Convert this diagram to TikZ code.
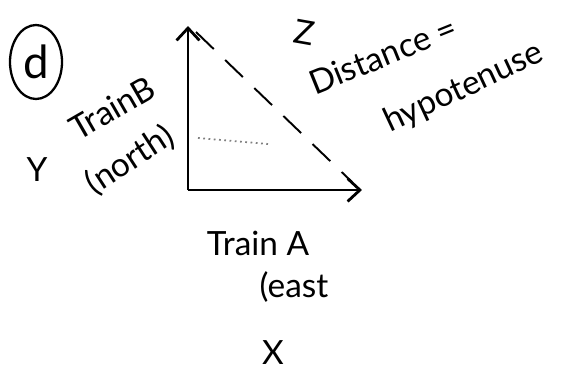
\documentclass[tikz,border=0pt]{standalone}
\usepackage{fontspec}
\setmainfont{Lato}
\usetikzlibrary{positioning,arrows.meta}

\begin{document}
\begin{tikzpicture}[x=0.02cm,y=-0.02cm,
    hand/.style={font=\fontsize{19}{21}\selectfont, inner sep=0pt},
    axis/.style={line width=1.6pt,-{Straight Barb[length=7pt,width=13pt]}}]
        \useasboundingbox (0,0) rectangle (566,379);

        % Label of the part
        \draw[line width=1.3pt] (36,62) ellipse [x radius=26, y radius=37];
        \node[hand, font=\fontsize{26}{28}\selectfont] (part) at (36,62) {d};

        % Axes
        \coordinate (origin) at (188,190);
        \coordinate (ytip) at (188,26);
        \coordinate (xtip) at (362,190);
        \draw[axis] (origin) -- (ytip);
        \draw[axis] (origin) -- (xtip);

        % Hypotenuse
        \coordinate (hypstart) at (196,32);
        \coordinate (hypend) at (352,182);
        \draw[line width=1.1pt, dash pattern=on 14pt off 9pt] (hypstart) -- (hypend);
        \draw[gray, line width=1pt, dotted] (198,138) -- (268,144);

        % Labels
        \node[hand, rotate=-10] (z) at (304,32) {Z};
        \node[hand, rotate=22] (dist) at (383,55) {Distance =};
        \node[hand, rotate=25] (hyp) at (464,88) {hypotenuse};
        \node[hand, rotate=30] (trainb) at (112,108) {TrainB};
        \node[hand, rotate=33] (north) at (130,160) {(north)};
        \node[hand] (y) at (37,170) {Y};
        \node[hand] (traina) at (258,243) {Train A};
        \node[hand] (east) at (294,287) {(east};
        \node[hand] (x) at (273,353) {X};
    \end{tikzpicture}
\end{document}
